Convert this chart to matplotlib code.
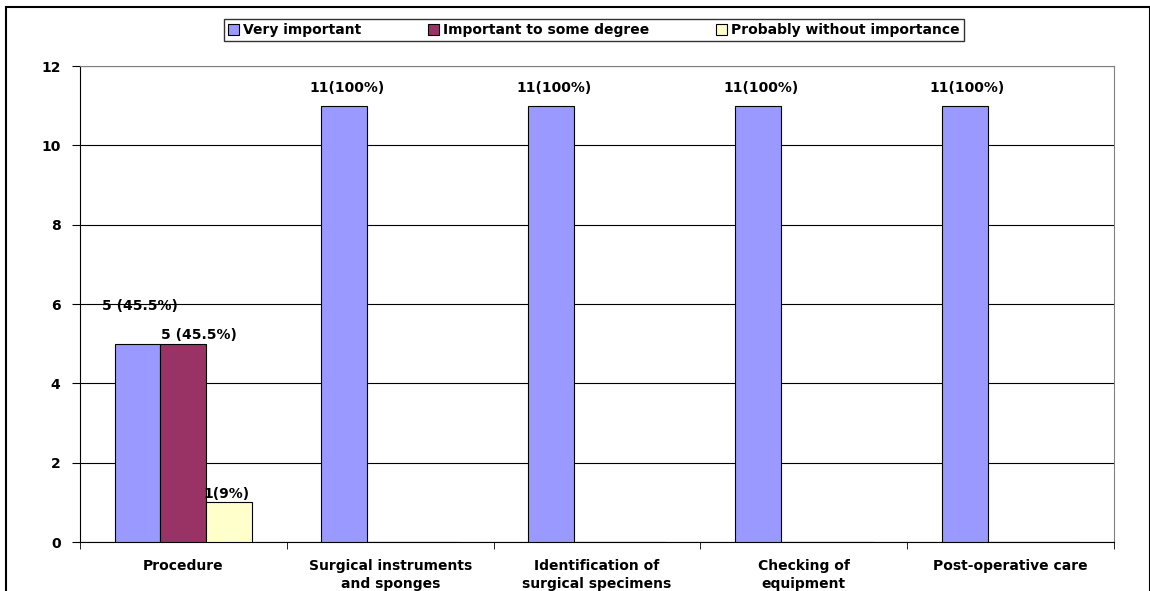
import numpy as np
import matplotlib
matplotlib.use("Agg")
import matplotlib.pyplot as plt
from matplotlib.patches import Rectangle

plt.rcParams['font.family'] = ['DejaVu Sans']
plt.rcParams['font.weight'] = 'bold'

# --- Data ---
categories = ["Procedure", "Surgical instruments\nand sponges", "Identification of\nsurgical specimens",
              "Checking of\nequipment", "Post-operative care"]
series_names = ["Very important", "Important to some degree", "Probably without importance"]
very_important = [5, 11, 11, 11, 11]
some_degree = [5, 0, 0, 0, 0]
without_importance = [1, 0, 0, 0, 0]
very_labels = ["5 (45.5%)", "11(100%)", "11(100%)", "11(100%)", "11(100%)"]
some_labels = ["5 (45.5%)", "", "", "", ""]
without_labels = ["1(9%)", "", "", "", ""]
colors = ["#9999ff", "#993366", "#ffffcc"]

FS = 10

fig = plt.figure(figsize=(11.5, 5.91), dpi=100)
ax = fig.add_axes([0.0696, 0.0829, 0.8991, 0.8054])

# outer chart frame
fig.patches.append(Rectangle((0.005, -0.01), 0.995, 0.998, transform=fig.transFigure,
                             fill=False, edgecolor='black', linewidth=1.5))

x = np.arange(len(categories))
w = 0.222
series = [very_important, some_degree, without_importance]
for i, vals in enumerate(series):
    ax.bar(x - w + i * w, vals, width=w, color=colors[i], edgecolor='black',
           linewidth=0.8, label=series_names[i], zorder=3)

# data labels
for j, lab in enumerate(very_labels):
    if not lab:
        continue
    dy = 22 if j == 0 else 8
    ax.annotate(lab, (x[j] - w, very_important[j]), xytext=(2, dy), textcoords='offset points',
                ha='center', va='bottom', fontsize=FS, fontweight='bold')
for j, lab in enumerate(some_labels):
    if lab:
        ax.annotate(lab, (x[j], some_degree[j]), xytext=(11, 1), textcoords='offset points',
                    ha='center', va='bottom', fontsize=FS, fontweight='bold')
for j, lab in enumerate(without_labels):
    if lab:
        ax.annotate(lab, (x[j] + w, without_importance[j]), xytext=(-2, 1), textcoords='offset points',
                    ha='center', va='bottom', fontsize=FS, fontweight='bold')

ax.set_xlim(-0.5, len(categories) - 0.5)
ax.set_ylim(0, 12)
ax.set_yticks(np.arange(0, 13, 2))
ax.yaxis.grid(True, color='black', linewidth=0.8, zorder=0)
ax.set_xticks(x)
ax.set_xticklabels(categories, fontsize=FS, fontweight='bold', va='top', linespacing=1.4)
ax.set_xticks(np.arange(-0.5, len(categories), 1), minor=True)
ax.tick_params(axis='x', which='major', length=0, pad=12)
ax.tick_params(axis='x', which='minor', length=5, direction='out')
ax.tick_params(axis='y', length=6, direction='out', labelsize=FS, pad=8)
for t in ax.get_yticklabels():
    t.set_fontweight('bold')

ax.spines['left'].set_color('black')
ax.spines['bottom'].set_color('black')
ax.spines['top'].set_color('#808080')
ax.spines['right'].set_color('#808080')

leg = ax.legend(loc='lower center', bbox_to_anchor=(0.497, 1.052), ncol=3, frameon=True,
                fancybox=False, edgecolor='black', fontsize=FS, handlelength=0.8,
                handleheight=0.8, handletextpad=0.3, columnspacing=4.8, borderpad=0.3,
                borderaxespad=0)
leg.get_frame().set_linewidth(1.0)

fig.savefig("out.png", dpi=100)
